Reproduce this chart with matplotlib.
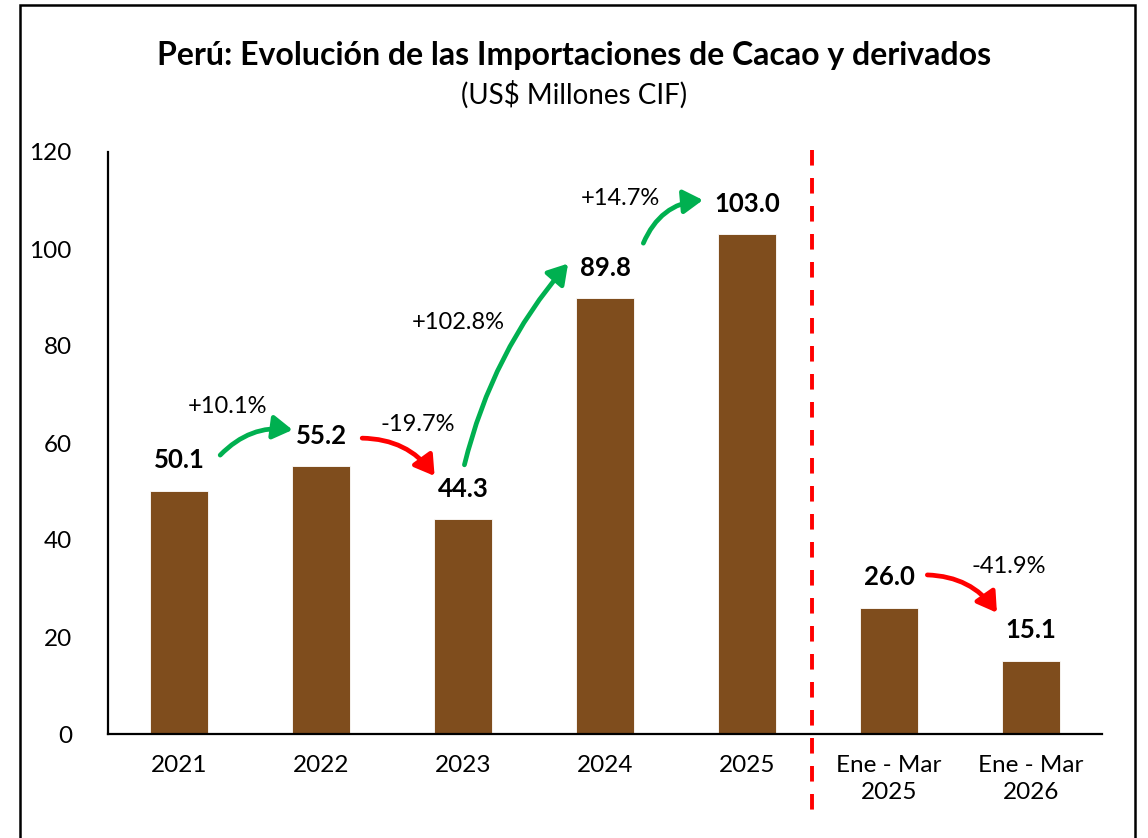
import matplotlib
matplotlib.use("Agg")
import matplotlib.pyplot as plt
from matplotlib.patches import FancyArrowPatch, Rectangle

plt.rcParams["font.family"] = ["Lato", "DejaVu Sans"]

CATEGORIES = ["2021", "2022", "2023", "2024", "2025", "Ene - Mar\n2025", "Ene - Mar\n2026"]
VALUES = [50.1, 55.2, 44.3, 89.8, 103.0, 26.0, 15.1]

# variation arrows: (from index, to index, label)
CHANGES = [
    (0, 1, "+10.1%"),
    (1, 2, "-19.7%"),
    (2, 3, "+102.8%"),
    (3, 4, "+14.7%"),
    (5, 6, "-41.9%"),
]

BAR_COLOR = "#7F4D1D"
GREEN = "#00B050"
RED = "#FF0000"

# arrow geometry in data coords (start, end, rad) and label position
ARROWS = [
    ((0.29, 57.5), (0.80, 62.7), -0.25, (0.345, 67.6)),
    ((1.29, 61.0), (1.80, 53.2), -0.25, (1.68, 63.9)),
    ((2.01, 55.5), (2.74, 97.0), -0.12, (1.965, 84.9)),
    ((3.27, 101.2), (3.69, 110.1), -0.3, (3.105, 110.5)),
    ((5.27, 32.8), (5.76, 25.0), -0.25, (5.84, 34.6)),
]


def main():
    fig = plt.figure(figsize=(11.48, 8.38), dpi=100)
    ax = fig.add_axes([108 / 1148, 1 - 734 / 838, 994 / 1148, 582 / 838])

    x = list(range(len(CATEGORIES)))
    ax.bar(x, VALUES, width=0.41, color=BAR_COLOR, edgecolor="white", linewidth=0.6)

    for xi, v in zip(x, VALUES):
        ax.annotate(f"{v:.1f}", (xi, v), xytext=(0, 22), textcoords="offset points",
                    ha="center", va="center", fontsize=18.5, fontweight="bold")

    for (i0, i1, lab), (p0, p1, rad, tpos) in zip(CHANGES, ARROWS):
        color = GREEN if VALUES[i1] > VALUES[i0] else RED
        arr = FancyArrowPatch(p0, p1, connectionstyle=f"arc3,rad={rad}",
                              arrowstyle="-|>,head_length=9,head_width=5.5",
                              color=color, linewidth=3.4, mutation_scale=1.3,
                              shrinkA=0, shrinkB=0, clip_on=False)
        ax.add_patch(arr)
        ax.text(tpos[0], tpos[1], lab, ha="center", va="center", fontsize=17)

    ax.set_xlim(-0.5, 6.5)
    ax.set_ylim(0, 120)
    ax.set_yticks(range(0, 121, 20))
    ax.set_xticks(x)
    ax.set_xticklabels(CATEGORIES, fontsize=17.5, linespacing=1.35)
    ax.tick_params(axis="y", length=0, pad=26, labelsize=17.5)
    ax.tick_params(axis="x", length=0, pad=15)
    for s in ["top", "right"]:
        ax.spines[s].set_visible(False)
    ax.spines["left"].set_linewidth(1.6)
    ax.spines["bottom"].set_linewidth(1.6)

    # separator between annual and partial-year data
    ax.plot([4.455, 4.455], [120.5, -17], color=RED, linestyle=(0, (4, 3.2)),
            linewidth=2.8, clip_on=False)

    fig.text(0.5, 1 - 55 / 838, "Perú: Evolución de las Importaciones de Cacao y derivados",
             ha="center", va="center", fontsize=23, fontweight="bold")
    fig.text(0.5, 1 - 95 / 838, "(US$ Millones CIF)", ha="center", va="center", fontsize=20)

    border = Rectangle((20 / 1148, -0.05), 1115 / 1148, 1.05 - 5 / 838,
                       transform=fig.transFigure, fill=False, edgecolor="black", linewidth=1.8)
    fig.patches.append(border)

    fig.savefig("out.png", dpi=100)
    plt.close(fig)


if __name__ == "__main__":
    main()
